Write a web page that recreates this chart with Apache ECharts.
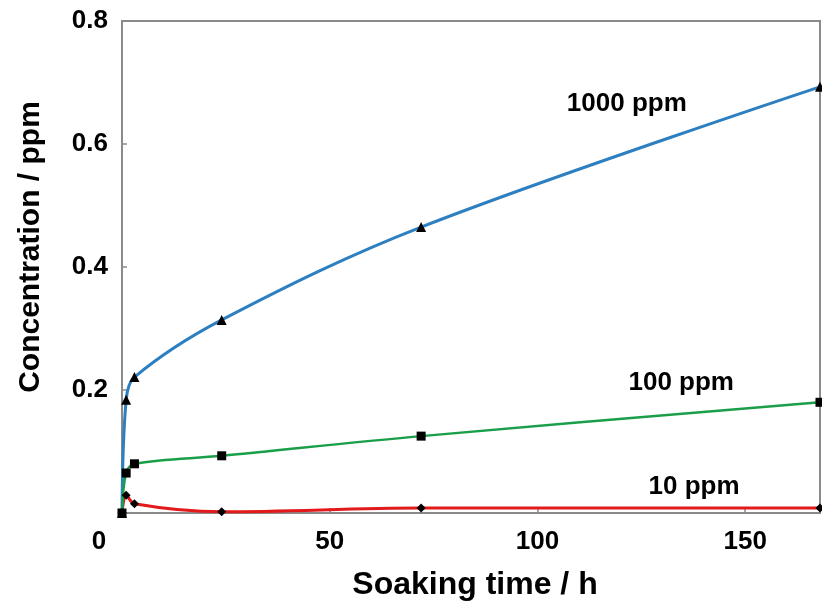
<!DOCTYPE html>
<html>
<head>
<meta charset="utf-8">
<script src="https://cdn.jsdelivr.net/npm/echarts@6/dist/echarts.min.js"></script>
<style>html,body{margin:0;padding:0;background:#fff;}#c{width:822px;height:610px;}</style>
</head>
<body>
<div id="c"></div>
<script>
const times = [0, 1, 3, 24, 72, 168];
const conc1000 = [0, 0.184, 0.221, 0.314, 0.465, 0.693];
const conc100 = [0, 0.065, 0.080, 0.093, 0.125, 0.180];
const conc10 = [0, 0.029, 0.015, 0.002, 0.008, 0.008];
const seriesNames = ['1000 ppm', '100 ppm', '10 ppm'];
const labelPos = [[121.5, 0.665], [134.6, 0.211], [137.7, 0.042]];
const xTicks = [0, 50, 100, 150];
const yTicks = [0.2, 0.4, 0.6, 0.8];

const FONT = 'Liberation Sans';
function pairs(vals){ return times.map((t,i)=>[t, vals[i]]); }
function mk(name, vals, color, symbol, size, lp, lw){
  return {
    name, type:'line', data:pairs(vals), smooth:0.35,
    symbol, symbolSize:size,
    itemStyle:{color:'#000'},
    lineStyle:{color, width:lw},
    markPoint:{
      symbol:'circle', symbolSize:1, itemStyle:{color:'rgba(0,0,0,0)'},
      label:{show:true, formatter:name, color:'#000', fontFamily:FONT, fontWeight:'bold', fontSize:26, position:'inside'},
      data:[{coord:lp}]
    },
    z:2
  };
}
const chart = echarts.init(document.getElementById('c'));
chart.setOption({
  animation:false,
  grid:{left:122, right:2, top:21, bottom:97, show:true, borderColor:'#8a8a8a', borderWidth:2},
  xAxis:{
    type:'value', min:0, max:168, interval:50,
    name:'Soaking time / h', nameLocation:'middle', nameGap:56,
    nameTextStyle:{fontFamily:FONT, fontWeight:'bold', fontSize:32, color:'#000', padding:[0,0,0,8]},
    axisLine:{show:true, lineStyle:{color:'#8a8a8a', width:2}},
    axisTick:{show:true, inside:true, length:5, lineStyle:{color:'#8a8a8a', width:1.5}},
    splitLine:{show:false},
    axisLabel:{
      showMaxLabel:false, margin:16,
      fontFamily:FONT, fontWeight:'bold', fontSize:26, color:'#000',
      formatter:function(v){ if(xTicks.indexOf(v)<0) return ''; return v===0 ? '{z|0}' : String(v); },
      rich:{z:{fontFamily:FONT, fontWeight:'bold', fontSize:26, color:'#000', padding:[0,46,0,0]}}
    }
  },
  yAxis:{
    type:'value', min:0, max:0.8, interval:0.2,
    name:'Concentration / ppm', nameLocation:'middle', nameGap:76,
    nameTextStyle:{fontFamily:FONT, fontWeight:'bold', fontSize:30, color:'#000', padding:[0,0,0,40]},
    axisLine:{show:true, lineStyle:{color:'#8a8a8a', width:2}},
    axisTick:{show:true, inside:true, length:5, lineStyle:{color:'#8a8a8a', width:1.5}},
    splitLine:{show:false},
    axisLabel:{
      showMinLabel:false, margin:14,
      fontFamily:FONT, fontWeight:'bold', fontSize:26, color:'#000',
      formatter:function(v){ return yTicks.some(t=>Math.abs(t-v)<1e-9) ? v.toFixed(1) : ''; }
    }
  },
  series:[
    mk(seriesNames[2], conc10, '#e31a1c', 'diamond', 9, labelPos[2], 3),
    mk(seriesNames[0], conc1000, '#2c7fc1', 'triangle', 10, labelPos[0], 3),
    mk(seriesNames[1], conc100, '#1a9e4a', 'rect', 9, labelPos[1], 2.5)
  ]
});
</script>
</body>
</html>
